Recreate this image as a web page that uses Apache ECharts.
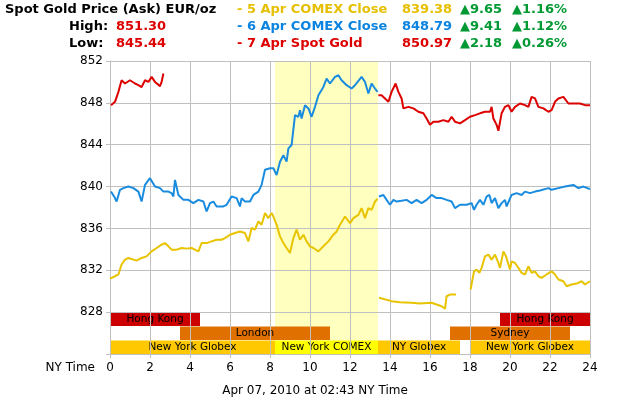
<!DOCTYPE html>
<html>
<head>
<meta charset="utf-8">
<script src="https://cdn.jsdelivr.net/npm/echarts/dist/echarts.min.js"></script>
<style>
  html, body { margin: 0; padding: 0; background: #fff; }
  #chart { width: 630px; height: 400px; }
</style>
</head>
<body>
<div id="chart"></div>
<script>
// hours (NY time) vs EUR/oz
var goldEarly = [[0,831.2],[0.25,831.43],[0.42,831.6],[0.58,832.55],[0.75,833.02],[0.92,833.18],[1.17,833.02],[1.33,832.92],[1.58,833.18],[1.83,833.33],[2.08,833.81],[2.33,834.13],[2.58,834.45],[2.75,834.6],[2.92,834.29],[3.08,833.97],[3.33,833.97],[3.58,834.13],[3.83,834.07],[4.08,834.13],[4.25,833.97],[4.42,833.81],[4.58,834.6],[4.83,834.6],[5.08,834.76],[5.33,834.92],[5.58,834.92],[5.75,835.08],[6.0,835.4],[6.25,835.56],[6.5,835.71],[6.75,835.56],[6.92,834.76],[7.08,836.04],[7.25,835.88],[7.42,836.67],[7.58,836.35],[7.75,837.47],[7.92,836.99],[8.08,837.47],[8.17,837.14],[8.33,836.35],[8.5,835.24],[8.67,834.6],[8.83,834.13],[9.0,833.65],[9.17,835.08],[9.33,835.88],[9.5,834.92],[9.67,835.4],[9.83,834.76],[10.0,834.29],[10.17,834.13],[10.42,833.81],[10.67,834.29],[10.92,834.76],[11.17,835.4],[11.33,835.71],[11.5,836.35],[11.75,837.14],[12.0,836.51],[12.17,836.99],[12.42,837.3],[12.58,837.94],[12.75,836.99],[12.92,837.94],[13.08,837.78],[13.25,838.57],[13.38,838.83]];
var goldMid = [[13.45,829.37],[14.08,829.05],[14.5,828.95],[15.08,828.9],[15.5,828.83],[16.08,828.9],[16.33,828.73],[16.58,828.57],[16.75,828.32],[16.83,829.52],[17.0,829.68],[17.3,829.68]];
var goldLate = [[18.03,830.16],[18.2,831.9],[18.33,832.07],[18.47,831.75],[18.58,832.23],[18.75,833.33],[18.92,833.5],[19.08,833.02],[19.25,833.5],[19.42,832.7],[19.5,832.23],[19.67,833.81],[19.8,833.33],[20.0,832.07],[20.08,832.86],[20.25,832.7],[20.42,832.23],[20.58,831.75],[20.75,831.6],[20.92,832.38],[21.08,831.75],[21.25,831.9],[21.42,831.43],[21.58,831.28],[21.83,831.6],[22.08,831.9],[22.25,831.6],[22.42,831.12],[22.67,830.95],[22.83,830.48],[23.08,830.64],[23.33,830.73],[23.58,830.95],[23.75,830.64],[24.0,830.95]];

var blueEarly = [[0.05,839.52],[0.25,838.9],[0.33,838.57],[0.5,839.69],[0.67,839.85],[0.92,840.0],[1.17,839.85],[1.42,839.52],[1.58,838.57],[1.75,840.16],[2.0,840.8],[2.25,840.0],[2.5,839.85],[2.67,839.52],[2.92,839.52],[3.08,839.37],[3.17,839.05],[3.25,840.64],[3.42,839.2],[3.67,838.73],[3.92,838.73],[4.17,838.42],[4.42,838.73],[4.67,838.57],[4.83,837.62],[5.0,838.42],[5.17,838.57],[5.33,838.1],[5.5,838.1],[5.67,838.1],[5.83,838.26],[6.08,839.05],[6.33,838.9],[6.5,838.1],[6.58,838.9],[6.75,838.57],[7.0,838.57],[7.17,839.2],[7.42,839.52],[7.58,840.16],[7.75,841.6],[8.0,841.75],[8.17,841.75],[8.33,841.1],[8.5,842.38],[8.67,843.0],[8.83,842.38],[8.92,843.65],[9.08,843.97],[9.25,846.83],[9.42,846.67],[9.5,847.3],[9.58,846.5],[9.75,847.78],[9.92,847.47],[10.08,846.67],[10.25,847.62],[10.42,848.73],[10.67,849.52],[10.83,850.32],[11.0,849.85],[11.25,850.48],[11.42,850.64],[11.58,850.16],[11.83,849.69],[12.08,849.37],[12.25,849.69],[12.58,850.48],[12.75,850.0],[12.92,848.9],[13.08,849.85],[13.25,849.37],[13.38,849.05]];
var blueLate = [[13.45,839.05],[13.67,839.2],[13.83,838.73],[14.0,838.26],[14.17,838.73],[14.33,838.57],[14.58,838.64],[14.83,838.73],[15.08,838.42],[15.33,838.73],[15.58,838.42],[15.83,838.73],[16.08,839.2],[16.33,838.9],[16.58,838.9],[16.83,838.73],[17.08,838.57],[17.25,837.94],[17.5,838.26],[17.83,838.26],[18.08,838.42],[18.2,837.78],[18.33,838.26],[18.5,838.73],[18.67,838.26],[18.83,839.05],[18.97,839.2],[19.08,838.42],[19.25,838.9],[19.42,837.94],[19.58,838.42],[19.75,838.73],[19.83,838.1],[20.08,839.2],[20.33,839.37],[20.58,839.2],[20.75,839.52],[21.0,839.37],[21.25,839.52],[21.5,839.62],[21.92,839.85],[22.08,839.69],[22.42,839.85],[22.75,840.0],[23.17,840.16],[23.42,839.85],[23.67,840.0],[24.0,839.75]];

var redEarly = [[0.05,847.78],[0.25,848.1],[0.42,849.05],[0.58,850.16],[0.75,849.85],[1.0,850.16],[1.25,849.85],[1.42,849.7],[1.58,849.5],[1.75,850.16],[1.92,850.0],[2.08,850.48],[2.25,850.0],[2.5,849.6],[2.58,850.0],[2.67,850.8]];
var redLate = [[13.42,848.73],[13.58,848.73],[13.75,848.42],[13.92,848.1],[14.08,849.05],[14.28,849.85],[14.42,849.05],[14.58,848.42],[14.67,847.47],[14.92,847.62],[15.17,847.47],[15.42,847.15],[15.67,847.0],[15.83,846.5],[16.0,845.9],[16.17,846.2],[16.42,846.2],[16.67,846.35],[16.92,846.2],[17.08,846.67],[17.25,846.2],[17.5,846.04],[17.75,846.35],[18.0,846.67],[18.25,846.83],[18.5,847.0],[18.75,847.15],[19.0,847.15],[19.08,847.62],[19.17,846.5],[19.33,845.9],[19.42,845.33],[19.58,847.0],[19.75,847.62],[19.92,847.78],[20.08,847.15],[20.25,847.62],[20.5,847.94],[20.75,847.78],[20.92,847.62],[21.08,848.57],[21.25,848.42],[21.42,847.62],[21.67,847.47],[21.92,847.15],[22.08,847.3],[22.25,848.1],[22.42,848.42],[22.67,848.57],[22.92,847.94],[23.17,847.94],[23.5,847.94],[23.75,847.78],[24.0,847.78]];

// trading sessions: name, start hour, end hour, lane (0 top)
var sessions = [
  ['Hong Kong', 0, 4.5, 0],
  ['Hong Kong', 19.5, 24, 0],
  ['London', 3.5, 11, 1],
  ['Sydney', 17, 23, 1],
  ['New York Globex', 0, 8.25, 2],
  ['New York COMEX', 8.25, 13.4, 2],
  ['NY Globex', 13.4, 17.5, 2],
  ['New York Globex', 18, 24, 2]
];
var comexHours = [[8.25, 13.4]];

var legendRows = [
  ['- 5 Apr COMEX Close', '839.38', '\u25B29.65', '\u25B21.16%'],
  ['- 6 Apr COMEX Close', '848.79', '\u25B29.41', '\u25B21.12%'],
  ['- 7 Apr Spot Gold', '850.97', '\u25B22.18', '\u25B20.26%']
];
var high = '851.30', low = '845.44';

var GOLD = '#e8c400', BLUE = '#1a8ce0', RED = '#dd0000', GREEN = '#009933';
var sessionColor = {
  'Hong Kong': '#cc0000', 'London': '#e07000', 'Sydney': '#e07000',
  'New York Globex': '#ffc800', 'NY Globex': '#ffc800', 'New York COMEX': '#ffff00'
};
var FONT = '"DejaVu Sans", Verdana, sans-serif';
var laneH = 4 / 3;

var chart = echarts.init(document.getElementById('chart'));

function lineSeries(data, color) {
  return {
    type: 'line', data: data, showSymbol: false, z: 3,
    lineStyle: { color: color, width: 2 }, itemStyle: { color: color },
    animation: false
  };
}

var graphics = [];
function txt(s, x, y, color) {
  graphics.push({
    type: 'text', x: x, y: y, silent: true,
    style: { text: s, fill: color, font: 'bold 13px ' + FONT, verticalAlign: 'middle' }
  });
}
txt('Spot Gold Price (Ask) EUR/oz', 5, 10, '#000');
txt('High:', 69, 27, '#000');
txt(high, 116, 27, RED);
txt('Low:', 69, 44, '#000');
txt(low, 116, 44, RED);
var legendColors = ['#e6c000', '#0a84e0', RED];
legendRows.forEach(function (r, i) {
  var y = 10 + i * 17;
  txt(r[0], 237, y, legendColors[i]);
  txt(r[1], 402, y, legendColors[i]);
  txt(r[2], 460, y, GREEN);
  txt(r[3], 512, y, GREEN);
});
graphics.push({
  type: 'text', x: 95, y: 368, silent: true,
  style: { text: 'NY Time', fill: '#000', font: '12px ' + FONT, align: 'right', verticalAlign: 'middle' }
});
graphics.push({
  type: 'text', x: 315, y: 391, silent: true,
  style: { text: 'Apr 07, 2010 at 02:43 NY Time', fill: '#000', font: '12px ' + FONT, align: 'center', verticalAlign: 'middle' }
});

chart.setOption({
  animation: false,
  grid: { left: 110, right: 40, top: 61, bottom: 46 },
  xAxis: {
    type: 'value', min: 0, max: 24, interval: 2, z: 1,
    axisLine: { lineStyle: { color: '#c0c0c0' } },
    axisTick: { show: true, length: 4, lineStyle: { color: '#c0c0c0' } },
    axisLabel: { color: '#000', fontSize: 12, fontFamily: FONT, margin: 8 },
    splitLine: { show: true, lineStyle: { color: '#c0c0c0', width: 1 } }
  },
  yAxis: {
    type: 'value', min: 824, max: 852, interval: 4, z: 1,
    axisLine: { show: true, lineStyle: { color: '#c0c0c0' } },
    axisTick: { show: true, length: 4, lineStyle: { color: '#c0c0c0' } },
    axisLabel: {
      color: '#000', fontSize: 12, fontFamily: FONT, margin: 7,
      formatter: function (v) { return v === 824 ? '' : v; }
    },
    splitLine: { show: true, lineStyle: { color: '#c0c0c0', width: 1 } }
  },
  graphic: graphics,
  series: [
    {
      type: 'custom', z: 0, silent: true,
      data: comexHours,
      encode: { x: [0, 1] },
      renderItem: function (params, api) {
        var p1 = api.coord([api.value(0), 852]);
        var p2 = api.coord([api.value(1), 824]);
        return { type: 'rect', shape: { x: p1[0], y: p1[1], width: p2[0] - p1[0], height: p2[1] - p1[1] },
          style: { fill: '#ffffc0' } };
      }
    },
    {
      type: 'custom', z: 0, silent: true,
      data: sessions.map(function (s) { return [s[1], s[2], s[3]]; }),
      encode: { x: [0, 1] },
      renderItem: function (params, api) {
        var lane = api.value(2);
        var top = 828 - lane * laneH, bot = top - laneH;
        var p1 = api.coord([api.value(0), top]);
        var p2 = api.coord([api.value(1), bot]);
        var name = sessions[params.dataIndex][0];
        return {
          type: 'group',
          children: [
            { type: 'rect', shape: { x: p1[0], y: p1[1] + 0.5, width: p2[0] - p1[0], height: p2[1] - p1[1] - 0.5 },
              style: { fill: sessionColor[name] } },
            { type: 'text', x: (p1[0] + p2[0]) / 2, y: (p1[1] + p2[1]) / 2 + 0.5,
              style: { text: name, fill: '#000', font: '10.5px ' + FONT, align: 'center', verticalAlign: 'middle' } }
          ]
        };
      }
    },
    lineSeries(goldEarly, GOLD),
    lineSeries(goldMid, GOLD),
    lineSeries(goldLate, GOLD),
    lineSeries(blueEarly, BLUE),
    lineSeries(blueLate, BLUE),
    lineSeries(redEarly, RED),
    lineSeries(redLate, RED)
  ]
});
</script>
</body>
</html>
